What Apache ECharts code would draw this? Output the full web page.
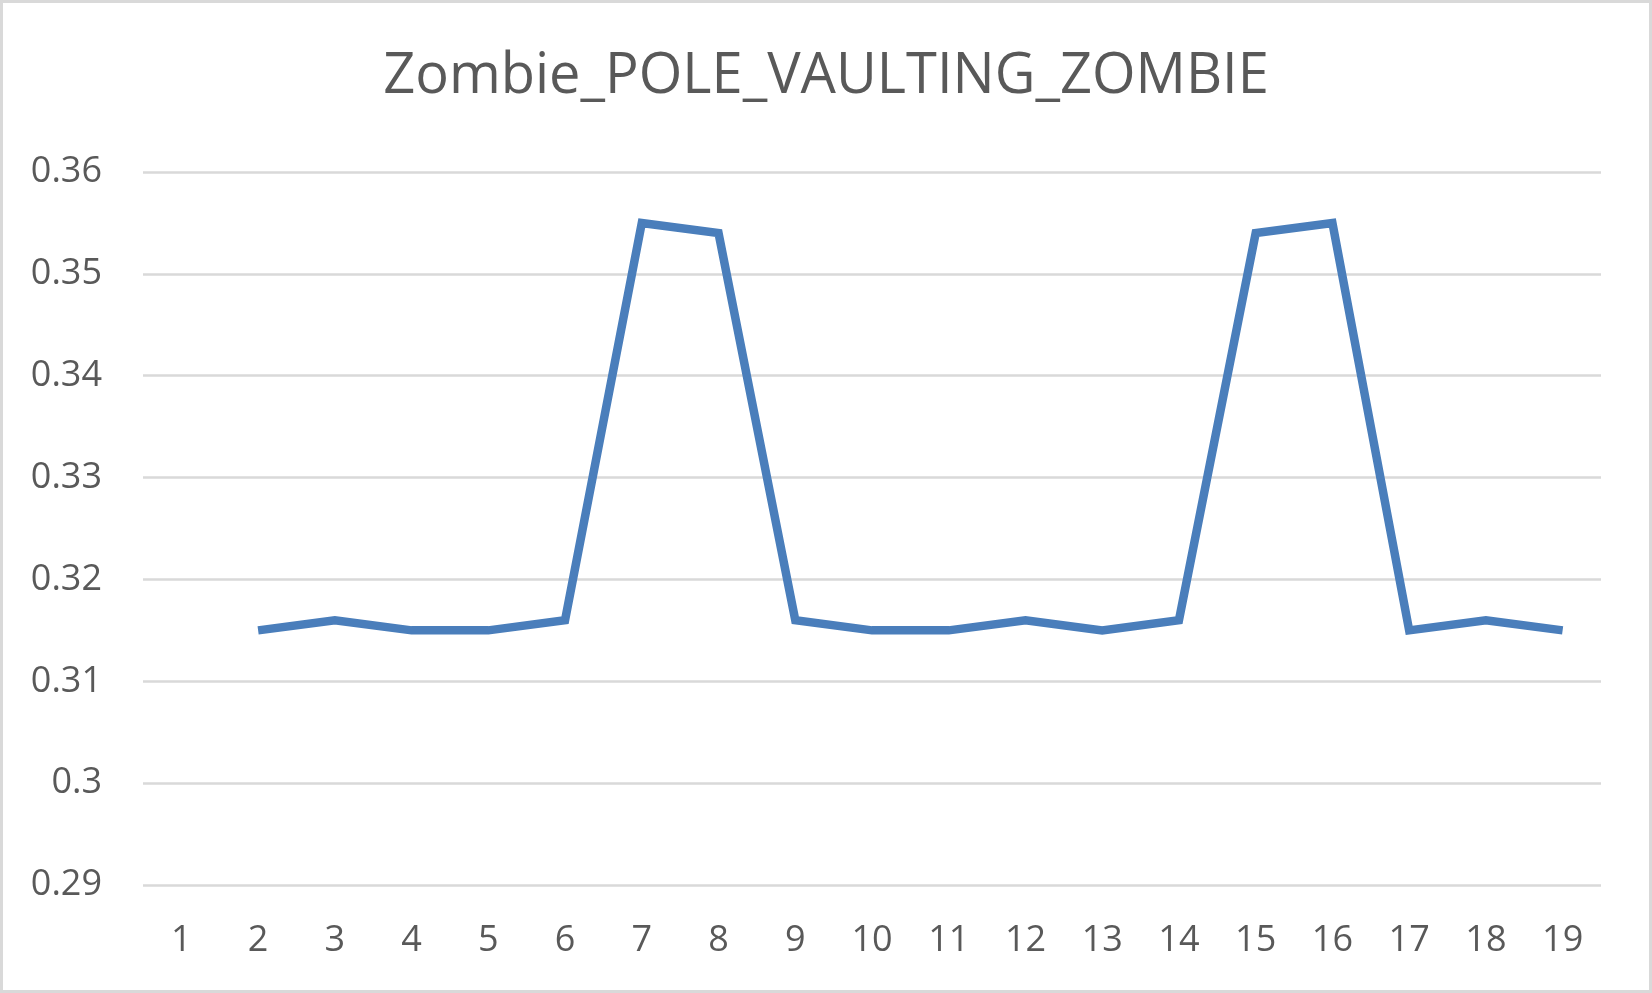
<!DOCTYPE html>
<html>
<head>
<meta charset="utf-8">
<script src="https://cdn.jsdelivr.net/npm/echarts@6/dist/echarts.min.js"></script>
<style>
html,body{margin:0;padding:0;background:#fff;}
#c{width:1652px;height:993px;}
</style>
</head>
<body>
<div id="c"></div>
<script>
var titleText = 'Zombie_POLE_VAULTING_ZOMBIE';
var categories = ['1','2','3','4','5','6','7','8','9','10','11','12','13','14','15','16','17','18','19'];
var values = [null,0.315,0.316,0.315,0.315,0.316,0.355,0.354,0.316,0.315,0.315,0.316,0.315,0.316,0.354,0.355,0.315,0.316,0.315];
var yMin = 0.29, yMax = 0.36, yStep = 0.01;

var chart = echarts.init(document.getElementById('c'));
chart.setOption({
  animation:false,
  backgroundColor:'#fff',
  graphic:[{type:'rect',shape:{x:1.5,y:1.5,width:1649,height:990},style:{fill:'none',stroke:'#d9d9d9',lineWidth:3},silent:true}],
  title:{text:titleText,left:'center',top:44,textStyle:{fontFamily:'Open Sans',fontSize:56,fontWeight:'normal',color:'#595959'}},
  grid:{left:143,right:51,top:172,bottom:108,containLabel:false},
  xAxis:{type:'category',data:categories,boundaryGap:true,
    axisLine:{show:false},axisTick:{show:false},
    axisLabel:{fontFamily:'Open Sans',fontSize:36,color:'#595959',margin:38}},
  yAxis:{type:'value',min:yMin,max:yMax,interval:yStep,
    axisLine:{show:false},axisTick:{show:false},
    splitLine:{lineStyle:{color:'#d9d9d9',width:2.5}},
    axisLabel:{fontFamily:'Open Sans',fontSize:36,color:'#595959',margin:41,
      formatter:function(v){return String(parseFloat(v.toFixed(4)));}}},
  series:[{type:'line',data:values,showSymbol:false,symbol:'none',
    lineStyle:{color:'#4a7ebb',width:8.5,join:'miter'},connectNulls:false}]
});
</script>
</body>
</html>
